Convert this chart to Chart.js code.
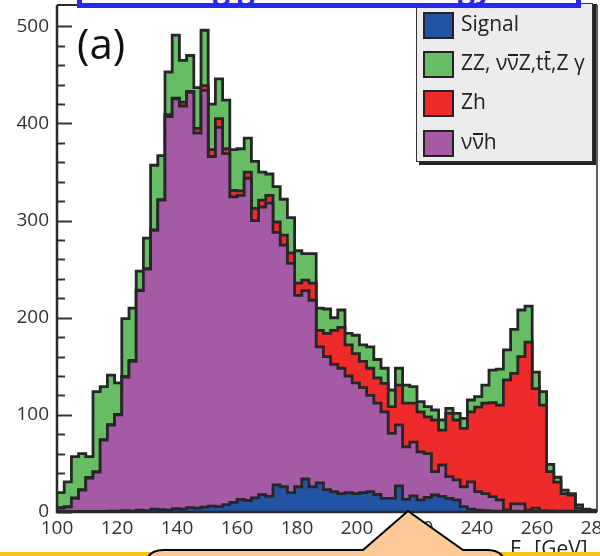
<!DOCTYPE html>
<html lang="en">
<head>
    <title>E gamma spectrum (a)</title>
    <script src="https://cdn.jsdelivr.net/npm/chart.js"></script>
    <style>
        body {
            margin: 0;
            background: white;
            font-family: 'Open Sans', sans-serif;
        }

        #wrap {
            position: relative;
            width: 600px;
            height: 556px;
            overflow: hidden;
        }

        #hist {
            position: absolute;
            left: 0;
            top: 0;
        }

        #panel {
            position: absolute;
            left: 77px;
            top: 22px;
            font-size: 42px;
            line-height: 42px;
            color: #111;
        }

        #legend {
            position: absolute;
            left: 416px;
            top: 3px;
            width: 177px;
            height: 159px;
            box-sizing: border-box;
            background: #ececec;
            border: 1px solid #333;
            box-shadow: 3px 3px 0 #222;
        }

        .row {
            position: absolute;
            left: 6px;
            height: 27px;
            line-height: 27px;
            font-size: 21px;
            color: #222;
            white-space: nowrap;
        }

        .swatch {
            display: inline-block;
            width: 31px;
            height: 27px;
            box-sizing: border-box;
            border: 2px solid #222;
            vertical-align: top;
        }

        .label {
            position: relative;
            top: -2px;
            margin-left: 7px;
        }

        .bar {
            position: relative;
        }

        .bar::before {
            content: '';
            position: absolute;
            left: 1px;
            right: 1px;
            top: 6px;
            height: 2px;
            background: #222;
        }

        .bar.t::before {
            top: 3px;
        }

        #titleBox {
            position: absolute;
            left: 77px;
            top: -40px;
            width: 504px;
            height: 48px;
            box-sizing: border-box;
            border: 5px solid rgb(40, 40, 240);
            background: white;
        }

        .desc {
            position: absolute;
            top: 3px;
            font-size: 30px;
            line-height: 40px;
            font-weight: bold;
            color: rgb(40, 40, 240);
        }

        #xTitle {
            position: absolute;
            left: 510px;
            top: 538px;
            font-size: 21px;
            line-height: 20px;
            color: #222;
            white-space: nowrap;
        }

        #xTitle sub {
            font-size: 14px;
        }

        #yellow {
            position: absolute;
            left: 0;
            top: 552px;
            width: 600px;
            height: 10px;
            background: #fcc419;
        }

        #bubble {
            position: absolute;
            left: 0;
            top: 0;
        }
    </style>
</head>
<body>

    <div id="wrap">
        <canvas id="hist" width="600" height="556"></canvas>
        <div id="panel">(a)</div>
        <div id="legend"></div>
        <div id="titleBox">
            <span class="desc" style="left: 131px;">g g</span>
            <span class="desc" style="left: 376px;">gy</span>
        </div>
        <div id="xTitle">E<sub>γ</sub> [GeV]</div>
        <div id="yellow"></div>
        <svg id="bubble" width="600" height="556">
            <path d="M 146 575 L 146 566 Q 146 550 164 550 L 363 550 L 408 511 L 463 550 L 487 550 Q 505 550 505 566 L 505 575 Z"
                  fill="#fdc996" stroke="#000" stroke-width="2"/>
        </svg>
    </div>

    <script>
        // histogram binning (GeV)
        const binStart = 100;
        const binWidth = 2.4;

        const xTicks = [100, 120, 140, 160, 180, 200, 220, 240, 260, 280];
        const yTicks = [0, 100, 200, 300, 400, 500];

        // per-bin event counts of each component
        const signal = [0.5, 0.5, 0.5, 0.5, 0.5, 0.5, 0.5, 1, 1, 1.5,
            1, 2, 1.5, 3, 2.5, 2, 3.5, 3, 4.5, 4,
            5, 6, 5.5, 7.5, 10, 13, 12, 14.6, 17.8, 16,
            28, 26, 20, 26, 34, 26, 30, 23, 21, 19,
            20, 19, 20, 21, 18, 14, 14, 27, 13, 16.5,
            12.4, 15, 17.5, 16, 14, 12.4, 5.6, 3, 2, 1.5,
            1, 1, 1, 1, 0.5, 0.5, 0.5, 0.5, 0.5, 0.3,
            0.3, 0.3, 0.2, 0.2, 0.1];

        const vvh = [3.5, 4.5, 13.5, 22, 34.5, 40.5, 73.5, 88.5, 99, 137.5,
            154, 226, 248.5, 287, 318.5, 405, 422, 415, 427.5, 386,
            429, 360, 390.5, 361.5, 314.5, 313, 331.6, 285.4, 296.2, 302,
            260, 248.7, 236, 197, 194, 192, 140, 137, 131, 129,
            120, 114, 108, 99, 94, 89, 67, 62.6, 54, 55.5,
            49.6, 45, 24, 32.4, 22.4, 20.6, 20.4, 28, 19, 17.5,
            14.8, 11.4, 1.2, 7.3, 7.8, 1.7, 3.4, 1, 0.7, 0.5,
            0.7, 0.5, 0.4, 0.3, 0.3];

        const zh = [0.5, 0.5, 0.5, 0.5, 0.5, 0.5, 0.5, 0.5, 0.5, 0.5,
            1, 0.5, 0.5, 0.5, 0.5, 2, 0.5, 4, 1, 5,
            5, 7, 9, 5, 6.5, 4.6, 6.4, 12.6, 7, 8,
            10.6, 10.3, 10.8, 12.6, 10.7, 17.6, 17, 24, 35, 42,
            32, 30, 27, 28, 26, 29.4, 27.4, 41.1, 45, 40,
            41, 38, 53.2, 36, 65.2, 61.7, 60, 72, 87, 93,
            96.8, 97.6, 133.8, 134.4, 151.7, 172.8, 123.1, 108.5, 40.3, 30,
            18, 16.7, 3.4, 1.5, 1.1];

        const zz = [15.5, 25.5, 42.5, 37, 21.5, 82.5, 54.5, 51, 32.5, 59.5,
            54, 19.5, 31.5, 66.5, 45.5, 44, 65, 43, 37, 42,
            57, 47, 41, 50, 42, 43.4, 35, 48.4, 29, 22,
            36.4, 37, 36.2, 33.4, 27.3, 30.4, 23, 25, 13, 18,
            12, 19, 17, 22, 19, 15.6, 17.2, 17.3, 18.7, 17,
            10.6, 10.4, 10.3, 10.3, 5.1, 6.9, 10.4, 12.3, 10.7, 18.7,
            33.4, 37, 31, 45.3, 48, 37, 17, 14, 7.5, 5,
            3.6, 1.5, 3.3, 1, 0.5];

        const colors = {
            signal: '#2353a3',
            zz: '#66bd63',
            zh: '#ee2a2a',
            vvh: '#a55aa5'
        };

        // legend entries in the order of the reference box
        const legendItems = [
            { color: colors.signal, html: 'Signal' },
            { color: colors.zz, html: 'ZZ, ν<span class="bar">ν</span>Z,t<span class="bar t">t</span>,Z γ' },
            { color: colors.zh, html: 'Zh' },
            { color: colors.vvh, html: 'ν<span class="bar">ν</span>h' }
        ];
        const legendTops = [8, 47, 86, 126];

        const legendBox = document.getElementById('legend');
        legendItems.forEach((item, i) => {
            const row = document.createElement('div');
            row.className = 'row';
            row.style.top = legendTops[i] + 'px';
            row.innerHTML = '<span class="swatch" style="background:' + item.color + '"></span>' +
                '<span class="label">' + item.html + '</span>';
            legendBox.appendChild(row);
        });

        // left bin edges plus the closing edge, for stepped lines
        function toPoints(values) {
            const pts = values.map((v, i) => ({ x: binStart + i * binWidth, y: v }));
            pts.push({ x: binStart + values.length * binWidth, y: values[values.length - 1] });
            return pts;
        }

        function histDataset(label, values, color, fill) {
            return {
                label: label,
                data: toPoints(values),
                stepped: true,
                fill: fill,
                backgroundColor: color,
                borderColor: '#262626',
                borderWidth: 2.8,
                pointRadius: 0,
                tension: 0
            };
        }

        const axisFont = { family: 'Open Sans', size: 19 };

        const framePlugin = {
            id: 'frame',
            beforeDatasetsDraw(chart) {
                const ctx = chart.ctx;
                const area = chart.chartArea;
                const y = chart.scales.y;
                ctx.save();
                ctx.strokeStyle = '#333';
                ctx.lineWidth = 2;
                for (let v = 0; v <= 500; v += 20) {
                    const py = Math.round(y.getPixelForValue(v)) + 0.5;
                    const len = v % 100 === 0 ? 15 : 8;
                    ctx.beginPath();
                    ctx.moveTo(area.left, py);
                    ctx.lineTo(area.left + len, py);
                    ctx.stroke();
                }
                ctx.restore();
            },
            afterDatasetsDraw(chart) {
                const ctx = chart.ctx;
                const a = chart.chartArea;
                ctx.save();
                ctx.strokeStyle = '#2a2a2a';
                ctx.lineWidth = 1.5;
                ctx.beginPath();
                ctx.moveTo(a.right, a.top);
                ctx.lineTo(a.right, a.bottom);
                ctx.stroke();
                ctx.lineWidth = 2;
                ctx.beginPath();
                ctx.moveTo(a.left, a.top);
                ctx.lineTo(a.right, a.top);
                ctx.stroke();
                ctx.lineWidth = 2.5;
                ctx.beginPath();
                ctx.moveTo(a.left, a.top);
                ctx.lineTo(a.left, a.bottom);
                ctx.lineTo(a.right, a.bottom);
                ctx.stroke();
                ctx.restore();
            }
        };

        new Chart(document.getElementById('hist').getContext('2d'), {
            type: 'line',
            data: {
                datasets: [
                    histDataset('Signal', signal, colors.signal, 'origin'),
                    histDataset('vvh', vvh, colors.vvh, '-1'),
                    histDataset('Zh', zh, colors.zh, '-1'),
                    histDataset('ZZ', zz, colors.zz, '-1')
                ]
            },
            options: {
                responsive: false,
                animation: false,
                layout: { padding: { top: 5, right: 3, left: 0, bottom: 0 } },
                plugins: {
                    legend: { display: false },
                    tooltip: { enabled: false }
                },
                scales: {
                    x: {
                        type: 'linear',
                        min: 100,
                        max: 280,
                        afterBuildTicks: s => { s.ticks = xTicks.map(v => ({ value: v })); },
                        afterFit: s => { s.height = 44; s.paddingLeft = 0; s.paddingRight = 0; },
                        ticks: { font: axisFont, color: '#333', padding: 5, maxRotation: 0, autoSkip: false },
                        grid: { display: false, drawTicks: false },
                        border: { display: false }
                    },
                    y: {
                        min: 0,
                        max: 522,
                        stacked: true,
                        afterBuildTicks: s => { s.ticks = yTicks.map(v => ({ value: v })); },
                        afterFit: s => { s.width = 57; s.paddingTop = 0; s.paddingBottom = 0; },
                        ticks: { font: axisFont, color: '#333', padding: 8 },
                        grid: { display: false, drawTicks: false },
                        border: { display: false }
                    }
                }
            },
            plugins: [framePlugin]
        });
    </script>

</body>
</html>
